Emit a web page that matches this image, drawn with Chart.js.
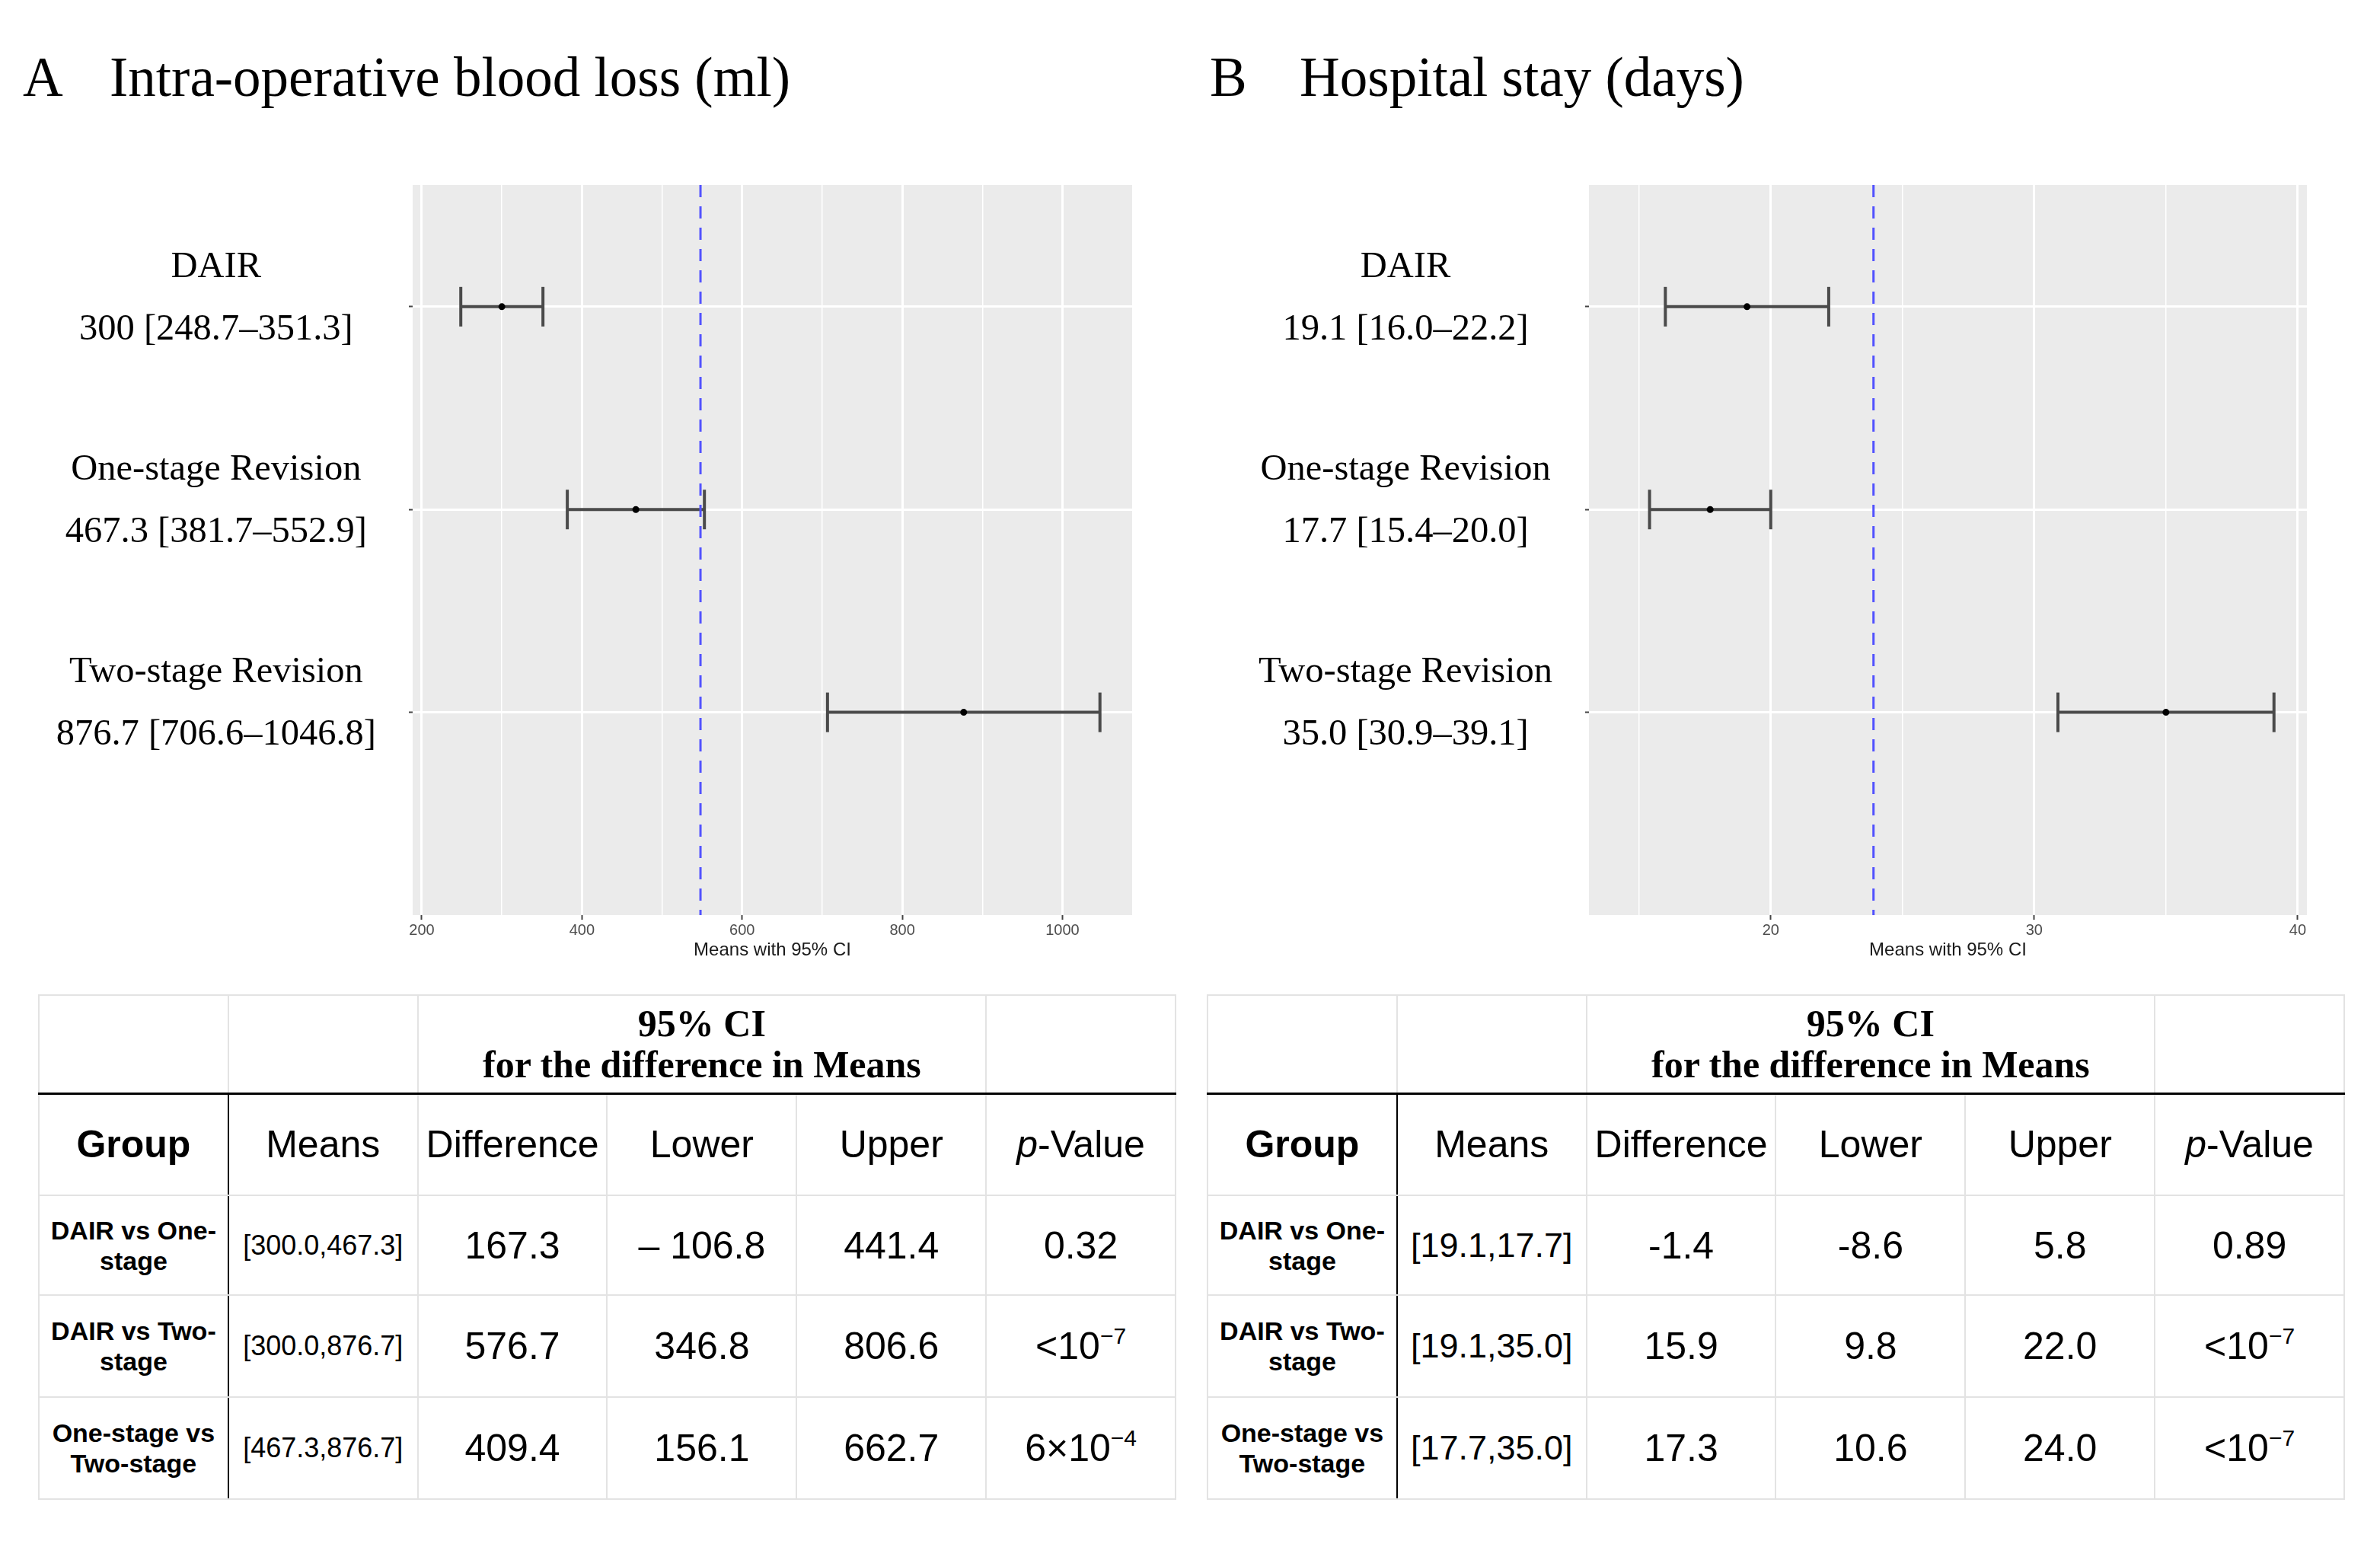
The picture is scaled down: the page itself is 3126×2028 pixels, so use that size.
<!DOCTYPE html>
<html>
<head>
<meta charset="utf-8">
<script src="https://cdn.jsdelivr.net/npm/chart.js@4.4.1/dist/chart.umd.min.js"></script>
<style>
  body { margin: 0; background: #fff; width: 3126px; height: 2028px; position: relative; overflow: hidden; }
  .title { position: absolute; top: 65px; font: 73px/73px "Liberation Serif", "Times New Roman", serif; white-space: pre; color: #000; }
  .plot { position: absolute; top: 200px; }
  table.stats { position: absolute; top: 1306px; width: 1495px; border-collapse: collapse; table-layout: fixed;
    font-family: "Liberation Sans", Arial, sans-serif; color: #000; }
  table.stats td { border: 2px solid #e3e3e3; text-align: center; vertical-align: middle; padding: 0; font-size: 50px; }
  table.stats tr.head td { border-bottom: 3px solid #000; }
  table.stats td.ci { font: bold 50px/54px "Liberation Serif", "Times New Roman", serif; }
  table.stats td.grp { border-right: 2px solid #000; font-weight: bold; font-size: 34px; line-height: 40px; }
  table.stats td.grp.hdr { font-size: 50px; }
  table.stats td.mn { border-left: 2px solid #000; }
  table.stats sup { font-size: 30px; vertical-align: 20px; line-height: 0; }
</style>
</head>
<body>
<div class="title" style="left:30px">A</div>
<div class="title" style="left:144px">Intra-operative blood loss (ml)</div>
<div class="title" style="left:1589px">B</div>
<div class="title" style="left:1707px">Hospital stay (days)</div>

<canvas id="chartA" class="plot" width="1560" height="1100" style="left:0px"></canvas>
<canvas id="chartB" class="plot" width="1546" height="1100" style="left:1580px"></canvas>

<div id="tables"></div>

<script>
// ---- panel A: intra-operative blood loss (ml)
const groupNames = ['DAIR', 'One-stage Revision', 'Two-stage Revision'];
const meansA = [300, 467.3, 876.7];
const lowerA = [248.7, 381.7, 706.6];
const upperA = [351.3, 552.9, 1046.8];
const statsA = ['300 [248.7–351.3]', '467.3 [381.7–552.9]', '876.7 [706.6–1046.8]'];
const refA = 548;
const majorTicksA = [200, 400, 600, 800, 1000];
const minorTicksA = [300, 500, 700, 900];

// ---- panel B: hospital stay (days)
const meansB = [19.1, 17.7, 35.0];
const lowerB = [16.0, 15.4, 30.9];
const upperB = [22.2, 20.0, 39.1];
const statsB = ['19.1 [16.0–22.2]', '17.7 [15.4–20.0]', '35.0 [30.9–39.1]'];
const refB = 23.9;
const majorTicksB = [20, 30, 40];
const minorTicksB = [15, 25, 35];

// ---- tables
const tableHeaders = ['Group', 'Means', 'Difference', 'Lower', 'Upper', '<i>p</i>-Value'];
const comparisons = ['DAIR vs One-<br>stage', 'DAIR vs Two-<br>stage', 'One-stage vs<br>Two-stage'];
const pairMeansA = ['[300.0,467.3]', '[300.0,876.7]', '[467.3,876.7]'];
const diffA = ['167.3', '576.7', '409.4'];
const diffLowerA = ['– 106.8', '346.8', '156.1'];
const diffUpperA = ['441.4', '806.6', '662.7'];
const pValuesA = ['0.32', '&lt;10<sup>−7</sup>', '6×10<sup>−4</sup>'];
const pairMeansB = ['[19.1,17.7]', '[19.1,35.0]', '[17.7,35.0]'];
const diffB = ['-1.4', '15.9', '17.3'];
const diffLowerB = ['-8.6', '9.8', '10.6'];
const diffUpperB = ['5.8', '22.0', '24.0'];
const pValuesB = ['0.89', '&lt;10<sup>−7</sup>', '&lt;10<sup>−7</sup>'];

const panelBg = {
  id: 'panelBg',
  beforeDraw(chart) {
    const { ctx, chartArea: a } = chart;
    ctx.save();
    ctx.fillStyle = '#ebebeb';
    ctx.fillRect(a.left, a.top, a.right - a.left, a.bottom - a.top);
    ctx.restore();
  }
};

function buildPanel(canvasId, p) {
  const yMin = 0.4, yMax = 4.0;
  const datasets = [];

  // means (drawn on top)
  datasets.push({
    type: 'scatter',
    data: p.means.map((m, i) => ({ x: m, y: i + 1 })),
    pointRadius: 4.5,
    pointBackgroundColor: '#000',
    pointBorderWidth: 0,
    order: 0
  });

  // dashed reference line
  datasets.push({
    type: 'line',
    data: [{ x: p.ref, y: yMin }, { x: p.ref, y: yMax }],
    borderColor: '#5252ff',
    borderWidth: 3,
    borderDash: [16, 12],
    pointRadius: 0,
    order: 1
  });

  // 95% CI whiskers with caps
  p.means.forEach((m, i) => {
    datasets.push({
      type: 'line',
      data: [{ x: p.lower[i], y: i + 1 }, { x: p.upper[i], y: i + 1 }],
      borderColor: '#4a4a4a',
      borderWidth: 4,
      pointStyle: 'line',
      pointRotation: 90,
      pointRadius: 26,
      pointBorderColor: '#4a4a4a',
      pointBorderWidth: 4,
      order: 2
    });
  });

  const allTicks = [...p.majors, ...p.minors].sort((a, b) => a - b);
  const isMajor = v => p.majors.includes(v);

  return new Chart(document.getElementById(canvasId), {
    data: { datasets },
    plugins: [panelBg],
    options: {
      responsive: false,
      animation: false,
      layout: { padding: { top: 43, right: p.padRight, left: 0, bottom: 0 } },
      plugins: { legend: { display: false }, tooltip: { enabled: false } },
      scales: {
        x: {
          type: 'linear',
          min: p.xMin,
          max: p.xMax,
          afterBuildTicks: s => { s.ticks = allTicks.map(v => ({ value: v })); },
          afterFit: s => { s.height = 98; s.paddingLeft = 0; s.paddingRight = 0; },
          border: { display: false },
          grid: {
            color: '#ffffff',
            lineWidth: c => (c.tick && isMajor(c.tick.value) ? 3 : 1.5),
            tickColor: c => (c.tick && isMajor(c.tick.value) ? '#444' : 'rgba(0,0,0,0)'),
            tickLength: 6,
            tickWidth: 2
          },
          ticks: {
            autoSkip: false,
            maxRotation: 0,
            padding: 2,
            color: '#4d4d4d',
            font: { family: 'Liberation Sans', size: 20 },
            callback: v => (isMajor(v) ? String(v) : '')
          },
          title: {
            display: true,
            text: 'Means with 95% CI',
            color: '#1a1a1a',
            font: { family: 'Liberation Sans', size: 24 },
            padding: { top: 0, bottom: 37 }
          }
        },
        y: {
          type: 'linear',
          reverse: true,
          min: yMin,
          max: yMax,
          afterBuildTicks: s => { s.ticks = p.means.map((m, i) => ({ value: i + 1 })); },
          afterFit: s => { s.width = p.axisWidth; s.paddingTop = 0; s.paddingBottom = 0; },
          border: { display: false },
          grid: { color: '#ffffff', lineWidth: 3, tickLength: 5, tickColor: '#444', tickWidth: 2 },
          ticks: {
            autoSkip: false,
            crossAlign: 'center',
            padding: 43,
            labelOffset: -11,
            color: '#000',
            font: { family: 'Liberation Serif', size: 48.5, lineHeight: 1.69 },
            callback: v => [groupNames[v - 1], p.stats[v - 1]]
          }
        }
      }
    }
  });
}

buildPanel('chartA', {
  means: meansA, lower: lowerA, upper: upperA, stats: statsA, ref: refA,
  majors: majorTicksA, minors: minorTicksA, xMin: 188.6, xMax: 1087,
  axisWidth: 542, padRight: 73
});
buildPanel('chartB', {
  means: meansB, lower: lowerB, upper: upperB, stats: statsB, ref: refB,
  majors: majorTicksB, minors: minorTicksB, xMin: 13.1, xMax: 40.35,
  axisWidth: 507, padRight: 96
});

function buildTable(left, pairMeans, diff, lo, hi, pv, meansFont) {
  const rowH = [129, 134, 131, 134, 134];
  let html = `<table class="stats" style="left:${left}px">`;
  html += `<tr style="height:${rowH[0]}px" class="head"><td></td><td></td>` +
          `<td colspan="3" class="ci">95% CI<br>for the difference in Means</td><td></td></tr>`;
  html += `<tr style="height:${rowH[1]}px">` + tableHeaders.map((h, j) =>
    j === 0 ? `<td class="grp hdr">${h}</td>` : j === 1 ? `<td class="mn">${h}</td>` : `<td>${h}</td>`).join('') + '</tr>';
  comparisons.forEach((c, i) => {
    html += `<tr style="height:${rowH[i + 2]}px">` +
      `<td class="grp">${c}</td>` +
      `<td class="mn" style="font-size:${meansFont}px">${pairMeans[i]}</td>` +
      `<td>${diff[i]}</td><td>${lo[i]}</td><td>${hi[i]}</td><td>${pv[i]}</td></tr>`;
  });
  html += '</table>';
  return html;
}

document.getElementById('tables').innerHTML =
  buildTable(50, pairMeansA, diffA, diffLowerA, diffUpperA, pValuesA, 36) +
  buildTable(1585, pairMeansB, diffB, diffLowerB, diffUpperB, pValuesB, 45);
</script>
</body>
</html>
